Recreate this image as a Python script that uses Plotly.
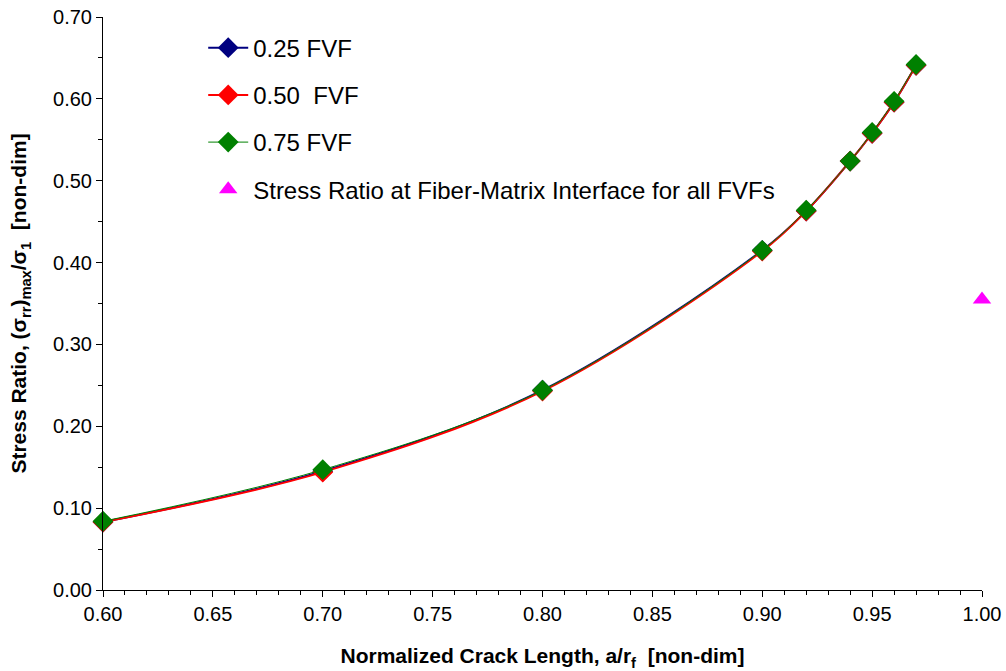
import plotly.graph_objects as go

x_vals = [0.60, 0.70, 0.80, 0.90, 0.92, 0.94, 0.95, 0.96, 0.97]
y_025 = [0.083, 0.145, 0.244, 0.415, 0.463, 0.524, 0.558, 0.596, 0.641]
y_050 = [0.083, 0.144, 0.243, 0.414, 0.463, 0.524, 0.558, 0.596, 0.641]
y_075 = [0.084, 0.147, 0.244, 0.415, 0.464, 0.524, 0.559, 0.597, 0.642]
interface_x = [1.00]
interface_y = [0.355]

names = ["0.25 FVF", "0.50&nbsp; FVF", "0.75 FVF"]
colors = ["#000080", "#FF0000", "#008000"]
widths = [2, 2, 1]
series = [y_025, y_050, y_075]

fig = go.Figure()
for i, (nm, c, w, ys) in enumerate(zip(names, colors, widths, series)):
    fig.add_trace(go.Scatter(
        x=x_vals, y=ys, name=nm, mode="lines+markers",
        line=dict(color=c, width=w, shape="spline"),
        marker=dict(symbol="diamond", size=16, color=c),
        legendgroup=f"g{i}", cliponaxis=False,
    ))
fig.add_trace(go.Scatter(
    x=interface_x, y=interface_y, mode="markers",
    name="Stress Ratio at Fiber-Matrix Interface for all FVFs",
    marker=dict(symbol="triangle-up", size=16, color="#FF00FF"),
    legendgroup="g3", cliponaxis=False,
))

font_family = "Liberation Sans, Arial, sans-serif"
fig.update_layout(
    width=1006, height=671,
    margin=dict(l=103, r=24, t=17, b=81, autoexpand=False),
    paper_bgcolor="white", plot_bgcolor="white",
    font=dict(family=font_family, size=20, color="black"),
    showlegend=True,
    legend=dict(x=0.114, y=0.985, xanchor="left", yanchor="top",
                font=dict(size=24, family=font_family),
                bgcolor="rgba(0,0,0,0)", tracegroupgap=13,
                itemwidth=40),
    xaxis=dict(
        range=[0.60, 1.00], dtick=0.05, tickformat=".2f", automargin=False,
        showgrid=False, zeroline=False, showline=True, linecolor="black", linewidth=1,
        ticks="outside", ticklen=6, tickcolor="black",
        minor=dict(dtick=0.01, ticks="outside", ticklen=4, tickcolor="black", showgrid=False),
        title=dict(text="<b>Normalized Crack Length, a/r<sub>f</sub>&nbsp; [non-dim]</b>",
                   font=dict(size=21), standoff=24),
        tickfont=dict(size=20),
    ),
    yaxis=dict(
        range=[0, 0.70], dtick=0.10, tickformat=".2f", automargin=False,
        showgrid=False, zeroline=False, showline=True, linecolor="black", linewidth=1,
        ticks="outside", ticklen=6, tickcolor="black",
        minor=dict(dtick=0.05, ticks="outside", ticklen=4, tickcolor="black", showgrid=False),
        title=dict(text="<b>Stress Ratio, (σ<sub>rr</sub>)<sub>max</sub>/σ<sub>1</sub>&nbsp; [non-dim]</b>",
                   font=dict(size=21), standoff=20),
        tickfont=dict(size=20),
    ),
)

fig.write_html("out.html")
